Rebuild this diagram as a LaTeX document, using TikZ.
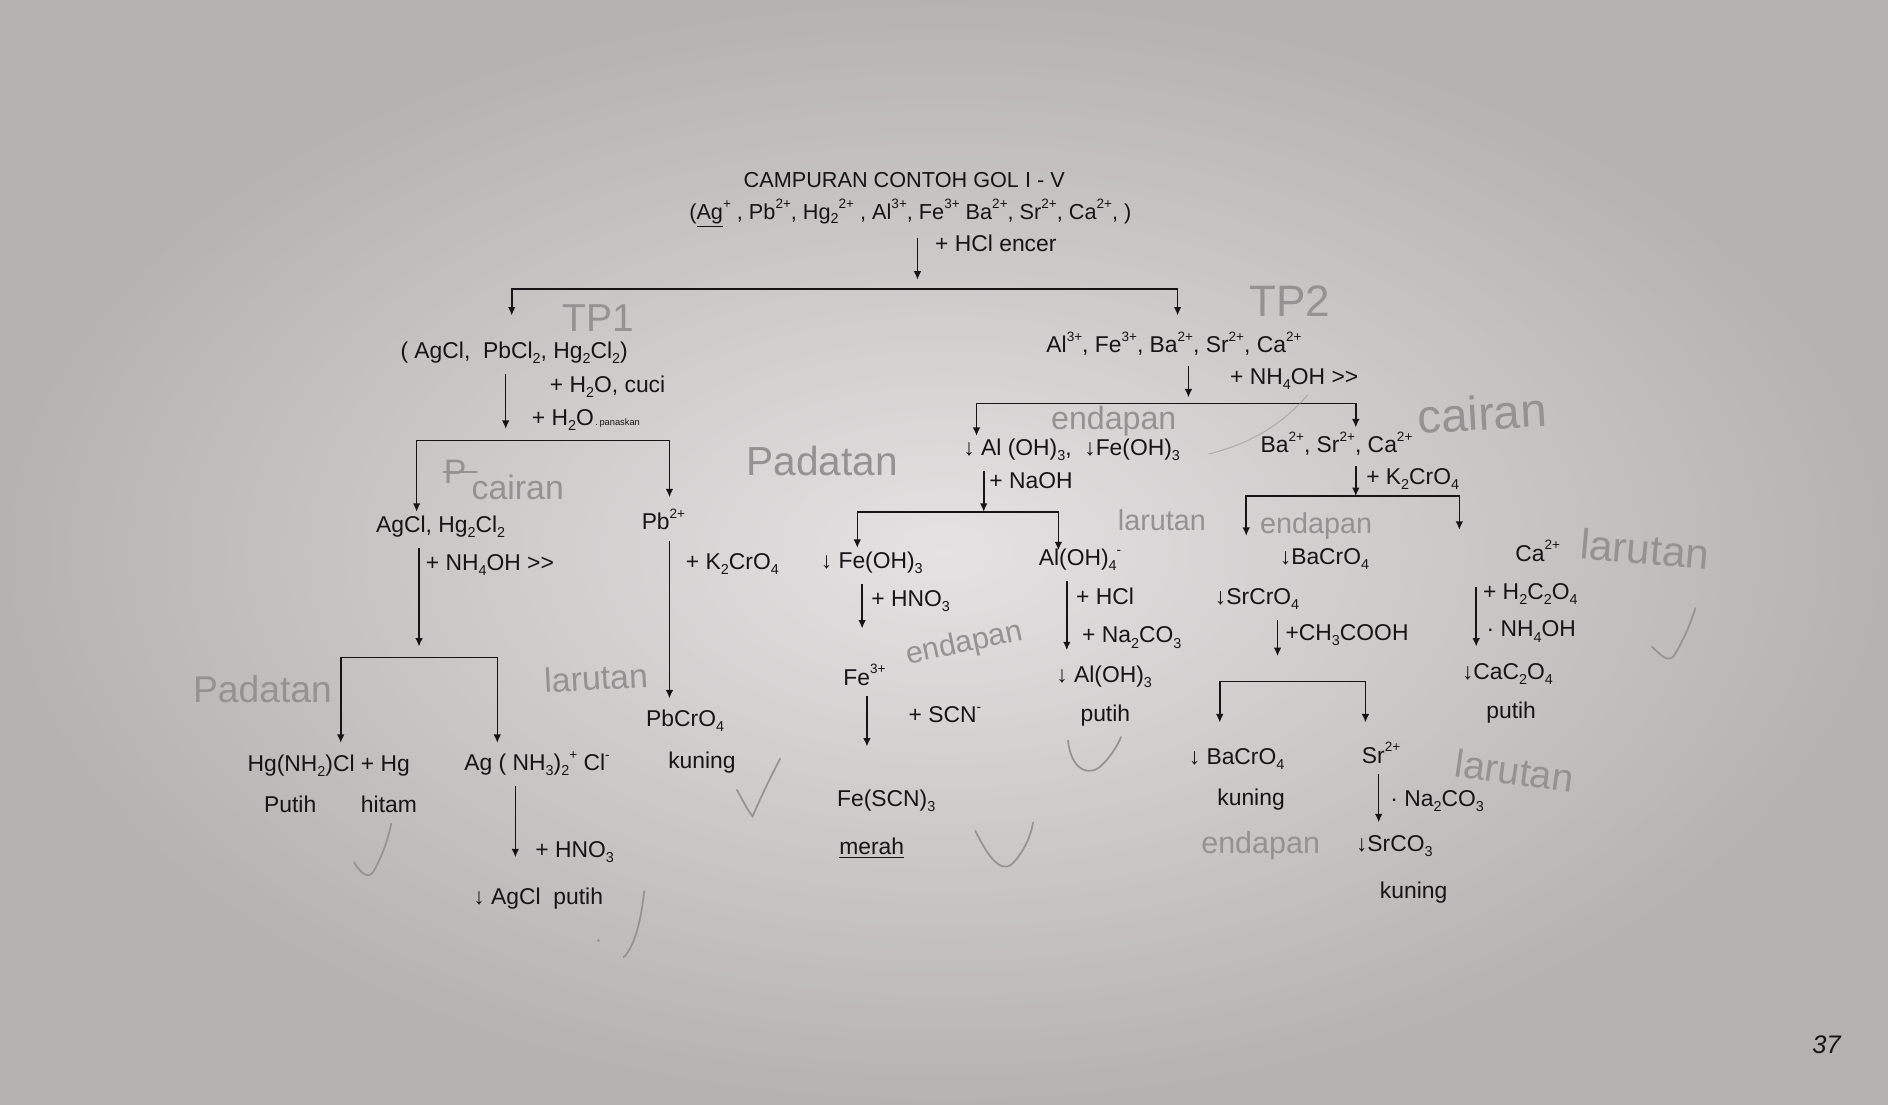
\documentclass[tikz,border=0pt]{standalone}
\usepackage{fontspec}
\setmainfont{Liberation Sans}
\usetikzlibrary{arrows.meta, positioning, calc}

\definecolor{ink}{RGB}{22,20,22}
\definecolor{pencil}{RGB}{150,145,146}
\definecolor{paperhi}{RGB}{228,226,226}
\definecolor{paperlo}{RGB}{182,178,178}

\newcommand{\chsub}[1]{\raisebox{-0.22em}{\fontsize{8.5}{9}\selectfont #1}}
\newcommand{\chsup}[1]{\raisebox{0.5em}{\fontsize{8}{9}\selectfont #1}}

\begin{document}
\begin{tikzpicture}[
        x=0.025cm, y=-0.025cm,
        chem/.style={anchor=base, inner sep=1pt, text=ink, font=\fontsize{13.5}{15}\selectfont},
        reagent/.style={chem, anchor=base west},
        hand/.style={text=pencil, inner sep=0pt, font=\fontsize{#1}{#1}\selectfont},
        hand/.default=20,
        arrow/.style={-{Latex[length=5pt,width=4.5pt]}, line width=0.9pt, draw=ink, shorten <=5pt},
        fork/.style={{Latex[length=5pt,width=4.5pt]}-{Latex[length=5pt,width=4.5pt]}, line width=0.9pt, draw=ink},
        pencilline/.style={draw=pencil, line width=1pt, line cap=round}
    ]

    % Paper
    \shade[inner color=paperhi, outer color=paperlo] (0,0) rectangle (1568,917);
    \useasboundingbox (0,0) rectangle (1568,917);

    % Sample
    \node[chem, font=\fontsize{12.8}{14}\selectfont] (title) at (751,156) {CAMPURAN CONTOH GOL I - V};
    \node[chem, font=\fontsize{12.8}{14}\selectfont] (mix) at (756,182) {(\underline{Ag}\chsup{+} , Pb\chsup{2+}, Hg\chsub{2}\chsup{2+} , Al\chsup{3+}, Fe\chsup{3+} Ba\chsup{2+}, Sr\chsup{2+}, Ca\chsup{2+}, )};
    \node[reagent] (hcl) at (775,209) {+ HCl encer};

    % Group I / rest
    \node[chem] (ppt1) at (427,298) {( AgCl,\ \ PbCl\chsub{2}, Hg\chsub{2}Cl\chsub{2})};
    \node[chem] (sol1) at (975,293) {Al\chsup{3+}, Fe\chsup{3+}, Ba\chsup{2+}, Sr\chsup{2+}, Ca\chsup{2+}};

    % Group I
    \node[reagent] (h2oA) at (455,326) {+ H\chsub{2}O, cuci};
    \node[reagent] (h2oB) at (440,353) {+ H\chsub{2}O{\fontsize{5.5}{6}\selectfont\,.\,panaskan}};
    \node[chem] (agclhg) at (366,442) {AgCl, Hg\chsub{2}Cl\chsub{2}};
    \node[chem] (pb) at (551,440) {Pb\chsup{2+}};
    \node[reagent] (nh4ohA) at (352,474) {+ NH\chsub{4}OH >{}>};
    \node[reagent] (k2cro4A) at (568,473) {+ K\chsub{2}CrO\chsub{4}};
    \node[chem] (pbcro4) at (569,603) {PbCrO\chsub{4}};
    \node[chem] (kuningA) at (583,638) {kuning};
    \node[chem] (hgnh2) at (273,641) {Hg(NH\chsub{2})Cl + Hg};
    \node[chem] (agnh3) at (446,640) {Ag ( NH\chsub{3})\chsub{2}\chsup{+} Cl\chsup{-}};
    \node[chem] (putihA) at (241,675) {Putih};
    \node[chem] (hitam) at (323,675) {hitam};
    \node[reagent] (hno3A) at (443,712) {+ HNO\chsub{3}};
    \node[chem] (agcl) at (447,751) {↓ AgCl\ \ putih};

    % Al, Fe
    \node[reagent] (nh4ohB) at (1020,319) {+ NH\chsub{4}OH >{}>};
    \node[chem] (hydrox) at (890,378) {↓ Al (OH)\chsub{3},\ \ ↓Fe(OH)\chsub{3}};
    \node[reagent] (naoh) at (820,406) {+ NaOH};
    \node[chem] (feoh) at (724,472) {↓ Fe(OH)\chsub{3}};
    \node[chem] (aloh4) at (897,470) {Al(OH)\chsub{4}\chsup{-}};
    \node[reagent] (hno3B) at (722,504) {+ HNO\chsub{3}};
    \node[chem] (fe) at (718,569) {Fe\chsup{3+}};
    \node[reagent] (scn) at (753,600) {+ SCN\chsup{-}};
    \node[chem] (fescn) at (736,670) {Fe(SCN)\chsub{3}};
    \node[chem] (merah) at (724,710) {\underline{merah}};
    \node[reagent] (hclB) at (892,502) {+ HCl};
    \node[reagent] (na2co3A) at (897,534) {+ Na\chsub{2}CO\chsub{3}};
    \node[chem] (aloh3) at (917,567) {↓ Al(OH)\chsub{3}};
    \node[chem] (putihB) at (918,599) {putih};

    % Ba, Sr, Ca
    \node[chem] (sol2) at (1110,376) {Ba\chsup{2+}, Sr\chsup{2+}, Ca\chsup{2+}};
    \node[reagent] (k2cro4B) at (1133,402) {+ K\chsub{2}CrO\chsub{4}};
    \node[chem] (bacro4A) at (1100,469) {↓BaCrO\chsub{4}};
    \node[chem] (srcro4) at (1044,502) {↓SrCrO\chsub{4}};
    \node[reagent] (acetic) at (1066,532) {+CH\chsub{3}COOH};
    \node[chem] (bacro4B) at (1027,635) {↓ BaCrO\chsub{4}};
    \node[chem] (kuningB) at (1039,669) {kuning};
    \node[chem] (sr) at (1147,634) {Sr\chsup{2+}};
    \node[reagent] (na2co3B) at (1153,670) {· Na\chsub{2}CO\chsub{3}};
    \node[chem] (srco3) at (1158,707) {↓SrCO\chsub{3}};
    \node[chem] (kuningC) at (1174,746) {kuning};
    \node[chem] (ca) at (1277,466) {Ca\chsup{2+}};
    \node[reagent] (oxalic) at (1230,498) {+ H\chsub{2}C\chsub{2}O\chsub{4}};
    \node[reagent] (nh4ohC) at (1233,529) {· NH\chsub{4}OH};
    \node[chem] (cac2o4) at (1252,564) {↓CaC\chsub{2}O\chsub{4}};
    \node[chem] (putihC) at (1255,597) {putih};

    \node[chem, font=\fontsize{15}{16}\selectfont\itshape] (page) at (1517,875) {37};

    % Fork points
    \coordinate (fork1) at (762,240);
    \coordinate (tip1L) at (425,262);
    \coordinate (tip1R) at (978,262);
    \coordinate (fork2) at (420,366);
    \coordinate (tip2L) at (346,425);
    \coordinate (tip2R) at (556,413);
    \coordinate (fork3) at (348,546);
    \coordinate (tip3L) at (283,617);
    \coordinate (tip3R) at (413,617);
    \coordinate (tipPb) at (556,580);
    \coordinate (tipAg) at (428,712);
    \coordinate (fork4) at (987,335);
    \coordinate (tip4L) at (811,362);
    \coordinate (tip4R) at (1126,355);
    \coordinate (fork5) at (817,425);
    \coordinate (tip5L) at (712,455);
    \coordinate (tip5R) at (879,457);
    \coordinate (tipFeA) at (716,522);
    \coordinate (tipFeB) at (720,620);
    \coordinate (tipAl) at (886,540);
    \coordinate (fork6) at (1126,412);
    \coordinate (tip6L) at (1035,445);
    \coordinate (tip6R) at (1212,440);
    \coordinate (fork7) at (1061,566);
    \coordinate (tip7L) at (1013,600);
    \coordinate (tip7R) at (1134,600);
    \coordinate (tipSr) at (1145,683);
    \coordinate (tipCa) at (1226,537);

    % Arrows
    \draw[arrow, shorten >=5.5pt] (mix.south -| fork1) -- (fork1);
    \draw[fork] (tip1L) |- (fork1) -| (tip1R);
    \draw[arrow, shorten >=7pt] (ppt1.south -| fork2) -- (fork2);
    \draw[fork] (tip2L) |- (fork2) -| (tip2R);
    \draw[arrow, shorten >=6.4pt] (agclhg.south -| fork3) -- (fork3);
    \draw[fork] (tip3L) |- (fork3) -| (tip3R);
    \draw[arrow] (pb.south -| tipPb) -- (tipPb);
    \draw[arrow] (agnh3.south -| tipAg) -- (tipAg);
    \draw[arrow, shorten >=3.5pt] (sol1.south -| fork4) -- (fork4);
    \draw[fork] (tip4L) |- (fork4) -| (tip4R);
    \draw[arrow] (hydrox.south -| fork5) -- (fork5);
    \draw[fork] (tip5L) |- (fork5) -| (tip5R);
    \draw[arrow] (feoh.south -| tipFeA) -- (tipFeA);
    \draw[arrow] (fe.south -| tipFeB) -- (tipFeB);
    \draw[arrow] (aloh4.south -| tipAl) -- (tipAl);
    \draw[arrow] (sol2.south -| fork6) -- (fork6);
    \draw[fork] (tip6L) |- (fork6) -| (tip6R);
    \draw[arrow, shorten >=15pt] (srcro4.south -| fork7) -- (fork7);
    \draw[fork] (tip7L) |- (fork7) -| (tip7R);
    \draw[arrow] (sr.south -| tipSr) -- (tipSr);
    \draw[arrow, shorten <=14pt] (ca.south -| tipCa) -- (tipCa);

    % Pencil notes
    \node[hand=23] (tpA) at (497,264) {TP1};
    \node[hand=26] (tpB) at (1071,250) {TP2};
    \node[hand=20] (pcross) at (378,392) {P};
    \draw[pencilline] (pcross.west) -- ([xshift=6pt]pcross.east);
    \node[hand=20] (cairanA) at (430,405) {cairan};
    \node[hand=24] (padatanA) at (683,383) {Padatan};
    \node[hand=22] (padatanB) at (218,572) {Padatan};
    \node[hand=20, rotate=3] (larutanA) at (495,563) {larutan};
    \node[hand=19] (endapanA) at (925,350) {endapan};
    \node[hand=28, rotate=3] (cairanB) at (1231,343) {cairan};
    \node[hand=17] (larutanB) at (965,432) {larutan};
    \node[hand=18, rotate=12] (endapanB) at (801,535) {endapan};
    \node[hand=17] (endapanC) at (1093,437) {endapan};
    \node[hand=25, rotate=-5] (larutanC) at (1366,456) {larutan};
    \node[hand=23, rotate=-8] (larutanD) at (1258,640) {larutan};
    \node[hand=18] (endapanD) at (1047,702) {endapan};

    % Ticks
    \draw[pencilline] (294,716) .. controls (300,726) and (306,730) .. (310,724) .. controls (317,712) and (322,698) .. (325,684);
    \draw[pencilline] (612,656) .. controls (617,665) and (621,673) .. (625,678) .. controls (632,662) and (640,645) .. (648,630);
    \draw[pencilline] (535,740) .. controls (533,760) and (528,785) .. (518,795);
    \fill[pencil] (497,781) circle (1.2);
    \draw[pencilline] (810,690) .. controls (820,710) and (830,725) .. (840,718) .. controls (850,708) and (856,695) .. (858,683);
    \draw[pencilline] (887,615) .. controls (889,635) and (900,645) .. (912,638) .. controls (920,632) and (928,620) .. (931,612);
    \draw[pencilline] (1372,537) .. controls (1380,545) and (1385,550) .. (1390,545) .. controls (1398,532) and (1404,518) .. (1408,505);
    \draw[pencilline, line width=0.6pt, opacity=0.6] (1086,328) .. controls (1065,352) and (1040,368) .. (1004,377);

\end{tikzpicture}
\end{document}
